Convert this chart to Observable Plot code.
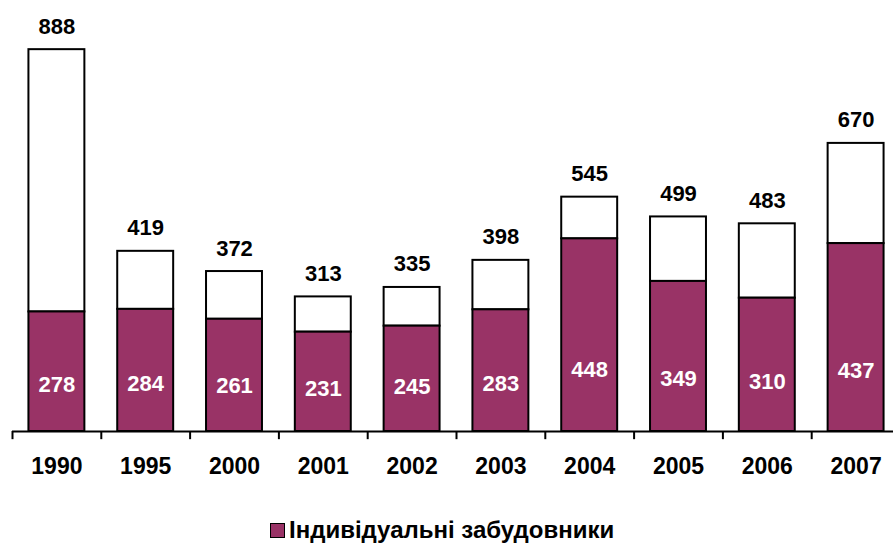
<!DOCTYPE html>
<html>
<head>
<meta charset="utf-8">
<script src="https://cdn.jsdelivr.net/npm/d3@7"></script>
<script src="https://cdn.jsdelivr.net/npm/@observablehq/plot@0.6"></script>
<style>
  body { margin: 0; background: #fff; font-family: "Liberation Sans", Arial, sans-serif; }
  #wrap { position: relative; width: 893px; height: 543px; }
  #legend { position: absolute; left: 270px; top: 516px; display: flex; align-items: center; font-weight: bold; font-size: 24px; color: #000; }
  #legend .sw { width: 13px; height: 13px; background: #993366; border: 1.5px solid #000; margin-right: 4px; }
</style>
</head>
<body>
<div id="wrap"><div id="chart"></div><div id="legend"><span class="sw"></span><span>Індивідуальні забудовники</span></div></div>
<script>
const years = ["1990", "1995", "2000", "2001", "2002", "2003", "2004", "2005", "2006", "2007"];
const totals = [888, 419, 372, 313, 335, 398, 545, 499, 483, 670];
const individual = [278, 284, 261, 231, 245, 283, 448, 349, 310, 437];

const data = years.map((y, i) => ({year: y, total: totals[i], ind: individual[i]}));
const purple = "#993366";
const step = (900 - 12) / years.length;

const chart = Plot.plot({
  width: 893,
  height: 490,
  marginTop: 1,
  marginBottom: 59,
  marginLeft: 12,
  marginRight: 0,
  style: {fontFamily: "'Liberation Sans', Arial, sans-serif", background: "#fff"},
  x: {domain: years, range: [12, 900], paddingInner: 0.37, paddingOuter: 0.185, round: false, axis: null},
  y: {domain: [0, 1000], axis: null},
  marks: [
    Plot.barY(data, {x: "year", y1: "ind", y2: "total", fill: "#fff", stroke: "#000", strokeWidth: 2}),
    Plot.barY(data, {x: "year", y1: 0, y2: "ind", fill: purple, stroke: "#000", strokeWidth: 2}),
    Plot.ruleY([0], {stroke: "#000", strokeWidth: 2}),
    Plot.ruleX(data, {x: "year", dx: -step / 2, y1: 0, y2: -19, stroke: "#000", strokeWidth: 2}),
    Plot.text(data, {x: "year", y: "total", text: d => String(d.total), dy: -23, fontSize: 22, fontWeight: "bold", fill: "#000"}),
    Plot.text(data, {x: "year", y: d => d.ind * 0.2, text: d => String(d.ind), dy: -23, fontSize: 22, fontWeight: "bold", fill: "#fff"}),
    Plot.text(data, {x: "year", y: 0, text: "year", dy: 35, fontSize: 23, fontWeight: "bold", fill: "#000"})
  ]
});
document.getElementById("chart").appendChild(chart);
</script>
</body>
</html>
